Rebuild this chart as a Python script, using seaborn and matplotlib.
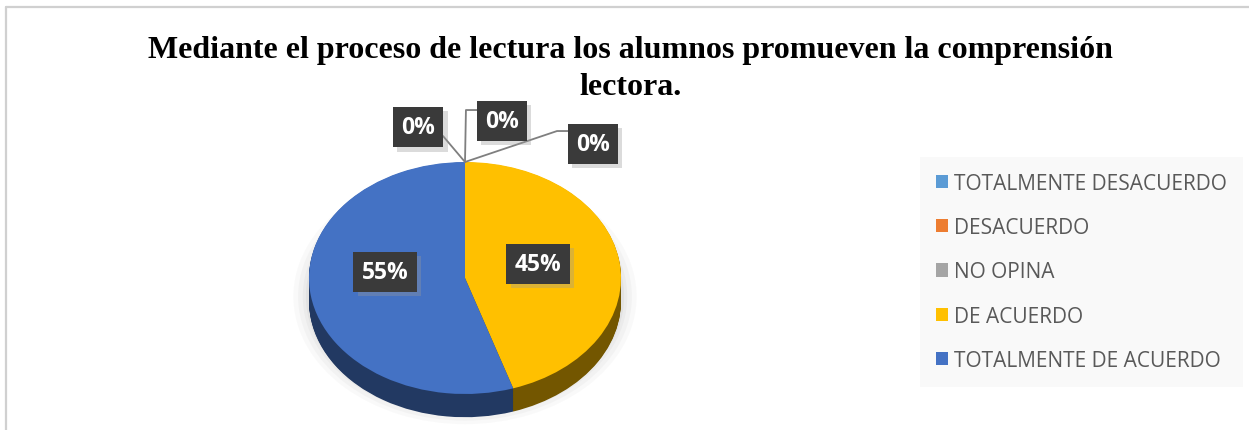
import numpy as np
import matplotlib
matplotlib.use("Agg")
import matplotlib.pyplot as plt
import matplotlib.patheffects as pe
from matplotlib.patches import Patch
from matplotlib.lines import Line2D
import seaborn as sns

# ---- data ----
categories = ["TOTALMENTE DESACUERDO", "DESACUERDO", "NO OPINA",
              "DE ACUERDO", "TOTALMENTE DE ACUERDO"]
values = [0, 0, 0, 45, 55]
colors = ["#5B9BD5", "#ED7D31", "#A5A5A5", "#FFC000", "#4472C4"]
title = "Mediante el proceso de lectura los alumnos promueven la comprensión\nlectora."

sns.set_theme(style="white")
plt.rcParams["font.family"] = ["Open Sans", "DejaVu Sans"]

W, H = 1249, 431
fig = plt.figure(figsize=(W / 100, H / 100), dpi=100)
fig.patch.set_facecolor("white")

# chart border (top and left visible)
fig.add_artist(Line2D([6 / W, 6 / W], [0, 1 - 8 / H], transform=fig.transFigure,
                      color="#d0d0d0", lw=1.6))
fig.add_artist(Line2D([6 / W, 1], [1 - 8 / H, 1 - 8 / H], transform=fig.transFigure,
                      color="#d0d0d0", lw=1.6))

# title
fig.text(630 / W, 1 - 36 / H, title, ha="center", va="top",
         fontsize=23, fontweight="bold", family="Liberation Serif",
         color="black", linespacing=1.38)

# ---- pie axes (tilted 3D look via anisotropic scaling) ----
cx, cy, Rx, Ry = 465, 279, 156, 116
x0, x1, y0, y1 = -1.6, 1.6, -1.6, 2.4
ax = fig.add_axes([(cx + x0 * Rx) / W, (H - cy + y0 * Ry) / H,
                   (x1 - x0) * Rx / W, (y1 - y0) * Ry / H])
ax.set_facecolor("none")

depth = 0.2
dark = [tuple(np.array(matplotlib.colors.to_rgb(c)) * f)
        for c, f in zip(colors, [0.5, 0.5, 0.5, 0.45, 0.5])]

# soft shadow
for r, a in [(1.10, 0.04), (1.07, 0.05), (1.04, 0.06), (1.02, 0.08)]:
    ax.pie([1], colors=["#7f7f7f"], radius=r, center=(0, -depth * 0.8),
           wedgeprops=dict(linewidth=0, alpha=a))

# side of the cylinder
for t in np.linspace(depth, 0.005, 30):
    ax.pie(values, colors=dark, startangle=90, counterclock=False,
           center=(0, -t), wedgeprops=dict(linewidth=0))
# top face
ax.pie(values, colors=colors, startangle=90, counterclock=False,
       center=(0, 0), wedgeprops=dict(linewidth=0))

ax.set_aspect("auto")
ax.set_xlim(x0, x1)
ax.set_ylim(y0, y1)
ax.axis("off")

# ---- data labels ----
label_pos = [(-0.30, 1.30), (0.237, 1.353), (0.82, 1.155), (0.468, 0.121), (-0.513, 0.052)]
leaders = [
    [(0, 1.0), (-0.141, 1.224)],
    [(0, 1.0), (0.006, 1.448), (0.083, 1.448)],
    [(0, 1.0), (0.59, 1.267), (0.66, 1.267)],
]
for pts in leaders:
    xs, ys = zip(*pts)
    ax.plot(xs, ys, color="#7f7f7f", lw=1.3, zorder=5, clip_on=False)

for (lx, ly), v in zip(label_pos, values):
    t = ax.text(lx, ly, f"{v}%", ha="center", va="center", color="white",
                fontsize=16.5, fontweight="bold", zorder=10,
                bbox=dict(boxstyle="square,pad=0.36", facecolor="#3a3a3a",
                          edgecolor="none"))
    t.get_bbox_patch().set_path_effects(
        [pe.SimplePatchShadow(offset=(3, -3), shadow_rgbFace="#999999", alpha=0.35),
         pe.Normal()])

# ---- legend ----
handles = [Patch(facecolor=c, edgecolor="none") for c in colors]
leg = fig.legend(handles, categories, loc="upper left",
                 bbox_to_anchor=(920 / W, 1 - 158 / H), frameon=True,
                 fontsize=15, labelcolor="#595959", handlelength=0.6,
                 handleheight=0.6, handletextpad=0.3, labelspacing=1.12,
                 borderpad=0.75, borderaxespad=0, fancybox=False)
leg.get_frame().set_facecolor("#f8f8f8")
leg.get_frame().set_edgecolor("none")

fig.savefig("out.png", dpi=100, facecolor="white")
